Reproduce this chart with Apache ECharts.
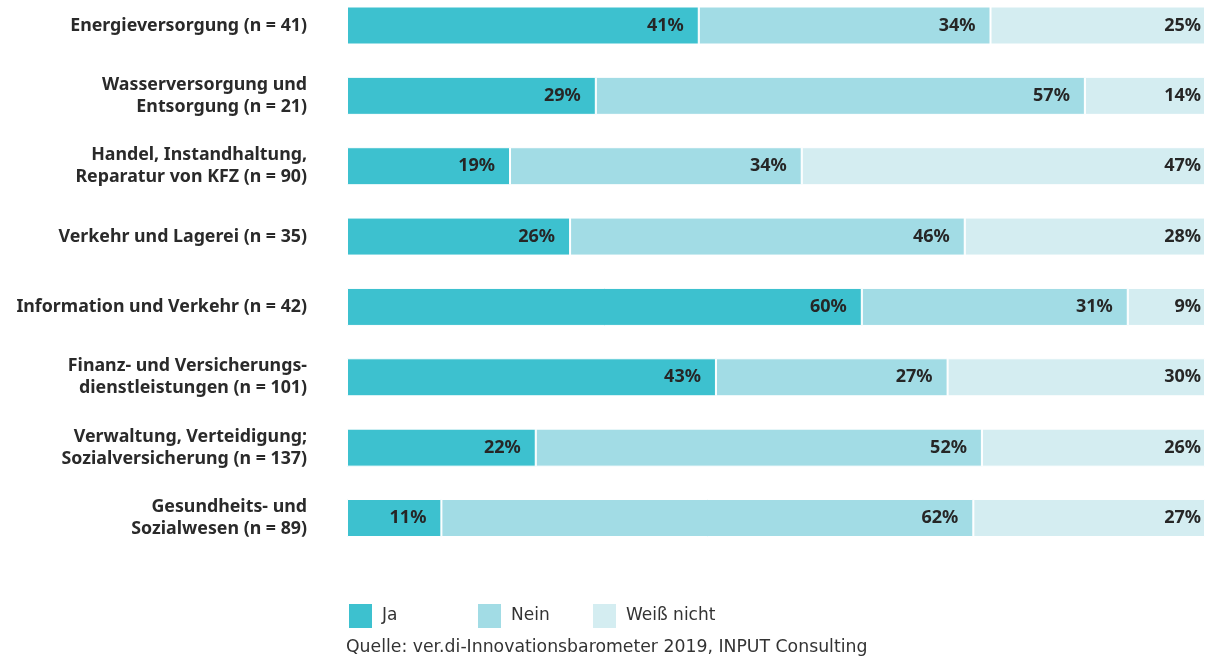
<!DOCTYPE html>
<html>
<head>
<meta charset="utf-8">
<script src="https://cdn.jsdelivr.net/npm/echarts@6/dist/echarts.min.js"></script>
<style>
html,body{margin:0;padding:0;background:#fff;}
#chart{width:1205px;height:659px;}
</style>
</head>
<body>
<div id="chart"></div>
<script>
var categories = [
  'Energieversorgung (n = 41)',
  'Wasserversorgung und\nEntsorgung (n = 21)',
  'Handel, Instandhaltung,\nReparatur von KFZ (n = 90)',
  'Verkehr und Lagerei (n = 35)',
  'Information und Verkehr (n = 42)',
  'Finanz- und Versicherungs-\ndienstleistungen (n = 101)',
  'Verwaltung, Verteidigung;\nSozialversicherung (n = 137)',
  'Gesundheits- und\nSozialwesen (n = 89)'
];
var ja = [41, 29, 19, 26, 60, 43, 22, 11];
var nein = [34, 57, 34, 46, 31, 27, 52, 62];
var weissNicht = [25, 14, 47, 28, 9, 30, 26, 27];
var seriesNames = ['Ja', 'Nein', 'Weiß nicht'];
var sourceText = 'Quelle: ver.di-Innovationsbarometer 2019, INPUT Consulting';

var colors = ['#3dc1cf', '#a2dce5', '#d4edf1'];
var FONT = '"Noto Sans", "Open Sans", sans-serif';
var FONT2 = '"DejaVu Sans", "Noto Sans", sans-serif';

function mkSeries(name, data, color, dist) {
  return {
    name: name,
    type: 'bar',
    stack: 'total',
    data: data,
    barWidth: 38,
    clip: false,
    itemStyle: { color: color, borderColor: '#ffffff', borderWidth: 1 },
    label: {
      show: true,
      position: 'insideRight',
      distance: dist,
      formatter: '{c}%',
      color: '#262626',
      fontFamily: FONT,
      fontWeight: 'bold',
      fontSize: 18
    },
    emphasis: { disabled: true }
  };
}

function mkLegend(name, left) {
  return {
    data: [name],
    left: left,
    top: 602,
    padding: 0,
    icon: 'rect',
    itemWidth: 25,
    itemHeight: 26,
    itemGap: 0,
    selectedMode: false,
    textStyle: { fontFamily: FONT2, fontSize: 17, color: '#333333', padding: [0, 0, 0, 4] }
  };
}

var chart = echarts.init(document.getElementById('chart'), null, { renderer: 'canvas' });
chart.setOption({
  animation: false,
  backgroundColor: '#ffffff',
  color: colors,
  title: {
    text: sourceText,
    left: 346,
    top: 639,
    padding: 0,
    textStyle: { fontFamily: FONT2, fontSize: 17.3, fontWeight: 'normal', color: '#333333' }
  },
  legend: [
    mkLegend(seriesNames[0], 347),
    mkLegend(seriesNames[1], 476),
    mkLegend(seriesNames[2], 591)
  ],
  grid: { left: 347, right: -2, top: 25.5, bottom: 141, containLabel: false },
  xAxis: {
    type: 'value',
    min: 0,
    max: 100,
    show: false
  },
  yAxis: {
    type: 'category',
    data: categories,
    inverse: true,
    boundaryGap: false,
    axisLine: { show: false },
    axisTick: { show: false },
    splitLine: { show: false },
    axisLabel: {
      margin: 40,
      interval: 0,
      fontFamily: FONT,
      fontWeight: 'bold',
      fontSize: 17.8,
      lineHeight: 22,
      color: '#2a2a2a',
      align: 'right'
    }
  },
  series: [
    mkSeries(seriesNames[0], ja, colors[0], 15),
    mkSeries(seriesNames[1], nein, colors[1], 15),
    mkSeries(seriesNames[2], weissNicht, colors[2], 4)
  ]
});
</script>
</body>
</html>
